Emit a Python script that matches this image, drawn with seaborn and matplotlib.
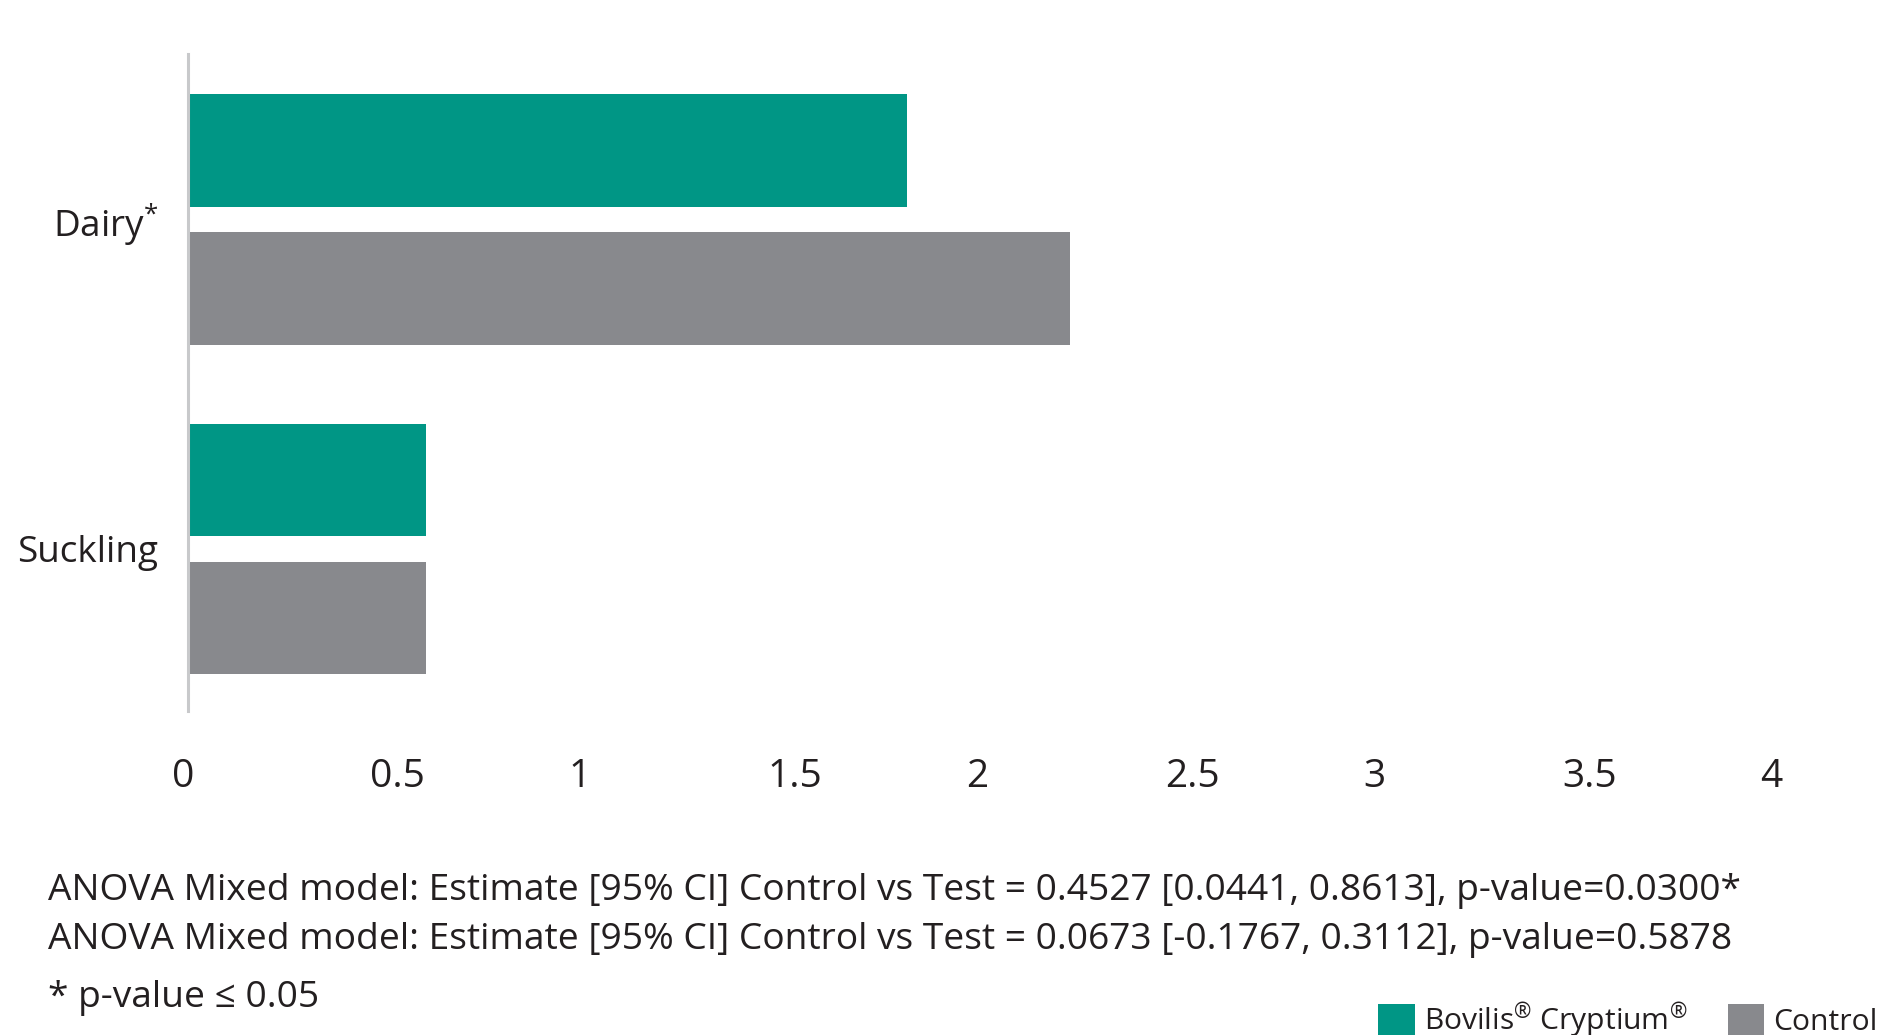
import matplotlib
matplotlib.use("Agg")
import matplotlib.pyplot as plt
import matplotlib.transforms as mtransforms
import seaborn as sns
import pandas as pd

# Data
categories = ["Dairy", "Suckling"]
groups = ["Bovilis® Cryptium®", "Control"]
bovilis_values = [1.81, 0.60]
control_values = [2.22, 0.60]
x_ticks = [0, 0.5, 1, 1.5, 2, 2.5, 3, 3.5, 4]
x_tick_labels = ["0", "0.5", "1", "1.5", "2", "2.5", "3", "3.5", "4"]
y_tick_labels = ["Dairy$^{*}$", "Suckling"]
legend_labels = ["Bovilis$^{®}$ Cryptium$^{®}$", "Control"]
footnotes = [
    "ANOVA Mixed model: Estimate [95% CI] Control vs Test = 0.4527 [0.0441, 0.8613], p-value=0.0300*",
    "ANOVA Mixed model: Estimate [95% CI] Control vs Test = 0.0673 [-0.1767, 0.3112], p-value=0.5878",
    "* p-value \u2264 0.05",
]

TEAL = "#009685"
GREY = "#88898d"
TEXT = "#231f20"

sns.set_theme(style="white")
plt.rcParams["font.family"] = ["Open Sans", "DejaVu Sans"]
plt.rcParams["mathtext.fontset"] = "custom"
plt.rcParams["mathtext.rm"] = "Open Sans"
plt.rcParams["mathtext.it"] = "Open Sans"
plt.rcParams["text.color"] = TEXT

df = pd.DataFrame({
    "category": categories * 2,
    "group": [groups[0]] * len(categories) + [groups[1]] * len(categories),
    "value": bovilis_values + control_values,
})

fig = plt.figure(figsize=(18.96, 10.35), dpi=100)
ax = fig.add_axes([0.0990, 0.3130, 0.8380, 0.6344])

sns.barplot(
    data=df, y="category", x="value", hue="group", orient="h",
    palette=[TEAL, GREY], width=0.837, gap=0.184, ax=ax,
    saturation=1, linewidth=0, legend=True,
)

ax.set_xlim(0, 4)
ax.set_ylim(1.492, -0.501)
ax.set_xticks(x_ticks)
ax.set_xticklabels(x_tick_labels)
ax.set_yticks([0, 1])
ax.set_yticklabels(y_tick_labels)
ax.set_xlabel("")
ax.set_ylabel("")
ax.tick_params(axis="x", length=0, pad=34, labelsize=28, labelcolor=TEXT)
ax.tick_params(axis="y", length=0, pad=21, labelsize=26.6, labelcolor=TEXT)

# x tick labels start just left of their tick
shift = mtransforms.ScaledTranslation(-0.16, 0, fig.dpi_scale_trans)
for lbl in ax.get_xticklabels():
    lbl.set_horizontalalignment("left")
    lbl.set_transform(lbl.get_transform() + shift)

for side in ["top", "right", "bottom"]:
    ax.spines[side].set_visible(False)
ax.spines["left"].set_color("#c8c9cb")
ax.spines["left"].set_linewidth(2.2)
ax.grid(False)

# Legend at the lower right corner
handles, _ = ax.get_legend_handles_labels()
ax.get_legend().remove()
fig.legend(
    handles, legend_labels,
    loc="center left", bbox_to_anchor=(0.7268, 0.0145), ncol=2,
    frameon=False, fontsize=21.6, handlelength=1.22, handleheight=1.22,
    handletextpad=0.3, columnspacing=1.35, borderaxespad=0, borderpad=0,
)

# Footnotes
y_positions = [0.139, 0.092, 0.036]
for text, yp in zip(footnotes, y_positions):
    fig.text(0.0253, yp, text, fontsize=26.7, va="center", ha="left", color=TEXT)

fig.savefig("out.png", dpi=100, facecolor="white")
